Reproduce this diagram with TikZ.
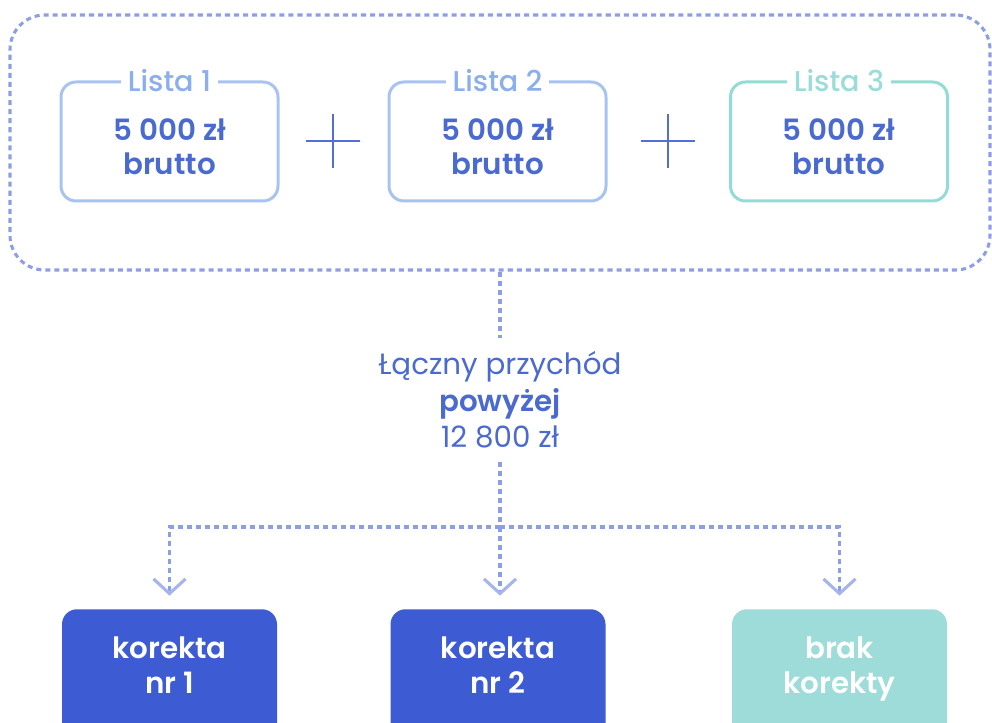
\documentclass[tikz,border=0pt]{standalone}
\usepackage{fontspec}
\setmainfont{Poppins}[UprightFont={* Medium},BoldFont={* SemiBold}]
\newfontfamily\popreg{Poppins}[BoldFont={* SemiBold}]
\usetikzlibrary{arrows.meta}
\definecolor{titleblue}{HTML}{8AAEEE}
\definecolor{borderblue}{HTML}{A8C3F2}
\definecolor{textblue}{HTML}{4B6AD0}
\definecolor{plusblue}{HTML}{5070D5}
\definecolor{dotblue}{HTML}{8C9EE4}
\definecolor{arrowblue}{HTML}{A5B4EC}
\definecolor{tealborder}{HTML}{93DCD6}
\definecolor{tealtitle}{HTML}{9ADDD8}
\definecolor{fillblue}{HTML}{3D5BD3}
\definecolor{fillteal}{HTML}{9DDCD9}
\begin{document}
\begin{tikzpicture}[x=0.75pt,y=-0.75pt,
  listbox/.style={draw=borderblue, line width=2.25pt, rounded corners=11.25pt,
    minimum width=162.75pt, minimum height=89.25pt, inner sep=0pt},
  listtitle/.style={fill=white, text=titleblue, inner xsep=5pt, inner ysep=1pt,
    font=\fontsize{21.5}{24}\selectfont},
  valtext/.style={text=textblue, align=center, inner sep=0pt,
    font=\fontsize{22}{25.5}\selectfont\bfseries},
  resbox/.style={rounded corners=11.25pt, minimum width=161.25pt,
    minimum height=105pt, inner sep=0pt, anchor=north},
  restext/.style={text=white, align=center, inner sep=0pt,
    font=\fontsize{22}{26.25}\selectfont\bfseries},
  dotline/.style={draw=dotblue, line width=2.3pt, dash pattern=on 3.8pt off 3pt},
  dotarrow/.style={dotline, -{Straight Barb[length=11pt,width=24pt,line width=2.3pt,color=arrowblue]}, shorten >=10pt},
  plusline/.style={draw=plusblue, line width=1.8pt}
]
\useasboundingbox (0,0) rectangle (992,723);
\clip (0,0) rectangle (992,723);

% outer dotted group
\node[dotline, rounded corners=26pt, minimum width=735pt, minimum height=191.25pt,
  inner sep=0pt] (group) at (500,142.5) {};

% top boxes
\node[listbox] (b1) at (169.5,141.5) {};
\node[listbox] (b2) at (497.5,141.5) {};
\node[listbox, draw=tealborder] (b3) at (839,141.5) {};

\node[listtitle] (t1) at (b1.north) {Lista 1};
\node[listtitle] (t2) at (b2.north) {Lista 2};
\node[listtitle, text=tealtitle] (t3) at (b3.north) {Lista 3};

\node[valtext] (v1) at (169.5,147) {5 000 zł\\brutto};
\node[valtext] (v2) at (497.5,147) {5 000 zł\\brutto};
\node[valtext] (v3) at (839,147) {5 000 zł\\brutto};

% plus signs
\coordinate (p1) at (333,141);
\coordinate (p2) at (668,141);
\draw[plusline] ([xshift=-20.25pt]p1) -- ([xshift=20.25pt]p1);
\draw[plusline] ([yshift=-20.25pt]p1) -- ([yshift=20.25pt]p1);
\draw[plusline] ([xshift=-20.25pt]p2) -- ([xshift=20.25pt]p2);
\draw[plusline] ([yshift=-20.25pt]p2) -- ([yshift=20.25pt]p2);

% middle text
\node[text=textblue, align=center, inner xsep=0pt, inner ysep=10pt,
  font=\fontsize{22}{27.5}\selectfont\popreg] (mid) at (500,400)
  {Łączny przychód\\\textbf{powyżej}\\12 800 zł};

% bottom boxes
\node[resbox, fill=fillblue] (k1) at (169.5,609) {};
\node[resbox, fill=fillblue] (k2) at (498,609) {};
\node[resbox, fill=fillteal] (k3) at (839.5,609) {};
\node[restext] (r1) at (169.5,665) {korekta\\nr 1};
\node[restext] (r2) at (498,665) {korekta\\nr 2};
\node[restext] (r3) at (839.5,669) {brak\\korekty};

% connectors
\coordinate (j) at (500,527);
\draw[dotline] (group.south) -- (mid.north);
\draw[dotline] (mid.south) -- (j);
\draw[dotarrow] (j) -| (k1.north);
\draw[dotarrow] (j) -- (j |- k2.north);
\draw[dotarrow] (j) -| (k3.north);
\end{tikzpicture}
\end{document}
